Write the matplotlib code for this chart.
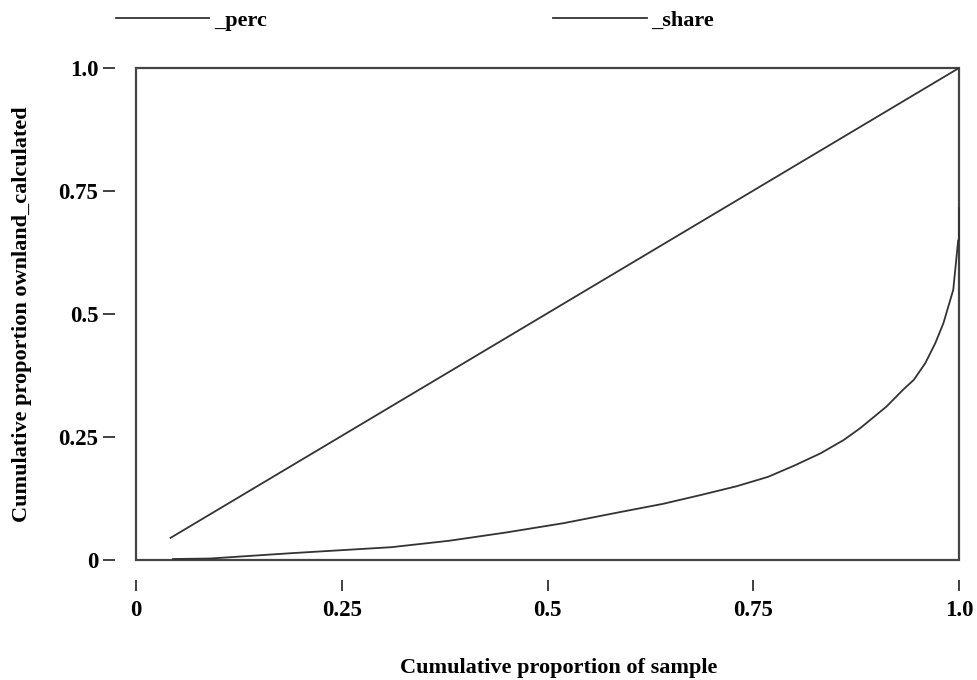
import numpy as np
import matplotlib
matplotlib.use('Agg')
import matplotlib.pyplot as plt
from matplotlib.patches import Rectangle

# Lorenz curve data
perc_x = [0.042, 1.0]
perc_y = [0.045, 1.0]

share_x = [0.045, 0.09, 0.19, 0.31, 0.38, 0.45, 0.52, 0.59, 0.64, 0.686, 0.73,
           0.768, 0.80, 0.832, 0.86, 0.880, 0.912, 0.932, 0.945, 0.959, 0.971,
           0.981, 0.987, 0.993, 0.997, 0.999, 1.0, 1.0]
share_y = [0.002, 0.003, 0.014, 0.026, 0.039, 0.056, 0.075, 0.098, 0.114, 0.132, 0.150,
           0.169, 0.192, 0.217, 0.244, 0.268, 0.312, 0.346, 0.366, 0.400, 0.440,
           0.481, 0.515, 0.549, 0.616, 0.650, 0.650, 0.715]

tick_vals = [0, 0.25, 0.5, 0.75, 1.0]
tick_labels = ['0', '0.25', '0.5', '0.75', '1.0']
legend_labels = ['_perc', '_share']

plt.rcParams['font.family'] = ['Liberation Serif', 'DejaVu Serif']
plt.rcParams['font.weight'] = 'bold'

fig = plt.figure(figsize=(9.77, 6.8), dpi=100)
ax = fig.add_axes([136 / 977, 120 / 680, 823 / 977, 492 / 680])

line_col = '#333333'
l1, = ax.plot(perc_x, perc_y, color=line_col, linewidth=1.3, zorder=3)
l2, = ax.plot(share_x, share_y, color=line_col, linewidth=1.3, zorder=3, clip_on=False)

ax.set_xlim(0, 1)
ax.set_ylim(0, 1)

# detached ticks: move spines outward and hide them, draw box separately
for s in ['top', 'right']:
    ax.spines[s].set_visible(False)
ax.spines['left'].set_position(('outward', 15))
ax.spines['bottom'].set_position(('outward', 14.5))
ax.spines['left'].set_color('none')
ax.spines['bottom'].set_color('none')
ax.add_patch(Rectangle((0, 0), 1, 1, transform=ax.transAxes, fill=False,
                       edgecolor='#444444', linewidth=1.6, clip_on=False, zorder=1))

ax.set_xticks(tick_vals)
ax.set_xticklabels(tick_labels)
ax.set_yticks(tick_vals)
ax.set_yticklabels(tick_labels)
ax.tick_params(axis='both', direction='out', color='#333333', width=1.3,
               labelsize=16.5, labelcolor='black')
ax.tick_params(axis='y', length=8.6, pad=3.6)
ax.tick_params(axis='x', length=8, pad=6)

ax.set_xlabel('Cumulative proportion of sample', fontsize=16, fontweight='bold')
ax.set_ylabel('Cumulative proportion ownland_calculated', fontsize=16, fontweight='bold')
ax.xaxis.set_label_coords(0.513, -0.2)
ax.yaxis.set_label_coords(-0.126, 0.5)

fig.legend([l1, l2], legend_labels, loc='upper left', bbox_to_anchor=(116 / 977, 0.985),
           ncol=2, frameon=False, fontsize=16, handlelength=4.2, handletextpad=0.2,
           columnspacing=12.9, borderpad=0, borderaxespad=0)

plt.savefig('out.png', dpi=100)
